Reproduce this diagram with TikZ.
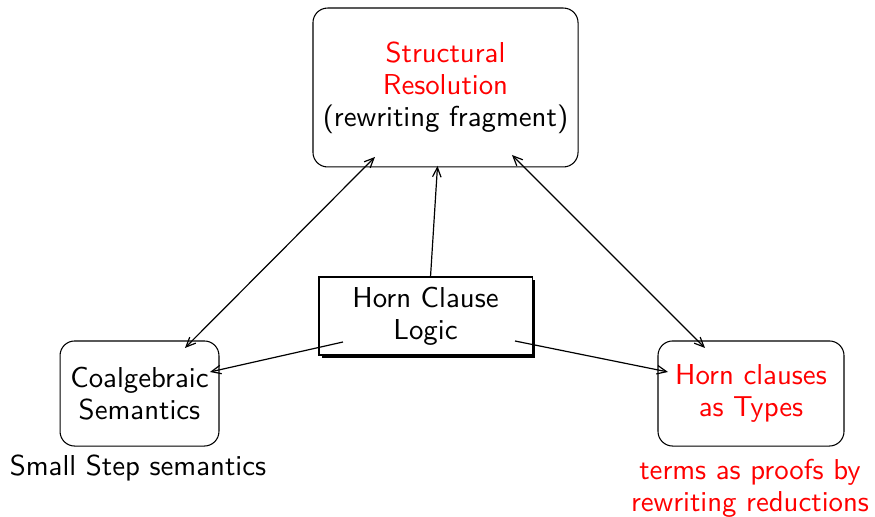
\documentclass[tikz,border=0pt]{standalone}
\usetikzlibrary{shadows,calc,arrows.meta}
\begin{document}
\begin{tikzpicture}[x=0.375pt,y=-0.375pt,
  font=\sffamily\fontsize{10.8}{12}\selectfont,
  every node/.style={inner sep=0pt,outer sep=0pt},
  rbox/.style={draw,rounded corners=5.5pt,align=center,fill=white},
  sbox/.style={draw,align=center,fill=white,
    drop shadow={shadow xshift=1.2pt,shadow yshift=-1.2pt,fill=black,opacity=1}},
  tip/.style={Straight Barb[length=3.6pt,width=3.2pt]},
  link/.style={-{Straight Barb[length=3.6pt,width=3.2pt]},line width=0.45pt},
  dlink/.style={{Straight Barb[length=3.6pt,width=3.2pt]}-{Straight Barb[length=3.6pt,width=3.2pt]},line width=0.45pt}]
\useasboundingbox (0,0) rectangle (875,517);

% boxes
\node[rbox,minimum width=99.4pt,minimum height=59.6pt] (sr) at (445.5,87.5)
  {\textcolor{red}{Structural}\\\textcolor{red}{Resolution}\\(rewriting fragment)};
\node[sbox,minimum width=79.9pt,minimum height=29.25pt] (hc) at (425.5,316)
  {Horn Clause\\Logic};
\node[rbox,minimum width=59.6pt,minimum height=39.4pt] (cs) at (139.5,393.5)
  {Coalgebraic\\Semantics};
\node[rbox,minimum width=69.75pt,minimum height=39.4pt,text=red] (ht) at (751,393.5)
  {Horn clauses\\as Types};

% captions below the lower boxes
\node (ss) at (138,468) {Small Step semantics};
\node[align=center,text=red] (tp) at (750,488) {terms as proofs by\\rewriting reductions};

% connector end points
\coordinate (hcN) at ($(hc.north)+(5,0)$);
\coordinate (hcL) at ($(hc.west)+(24,26)$);
\coordinate (hcR) at ($(hc.east)+(-17,25)$);
\coordinate (srS) at ($(sr.south)+(-8,-1)$);
\coordinate (srL) at ($(sr.south west)+(62,-10)$);
\coordinate (srR) at ($(sr.south west)+(199,-12)$);
\coordinate (csT) at ($(cs.north east)+(-34,7)$);
\coordinate (csR) at ($(cs.north east)+(-9,31)$);
\coordinate (htT) at ($(ht.north west)+(47,7)$);
\coordinate (htL) at ($(ht.north west)+(10,31)$);

% connectors
\draw[link] (hcN) -- (srS);
\draw[link] (hcL) -- (csR);
\draw[link] (hcR) -- (htL);
\draw[dlink] (csT) -- (srL);
\draw[dlink] (srR) -- (htT);
\end{tikzpicture}
\end{document}
